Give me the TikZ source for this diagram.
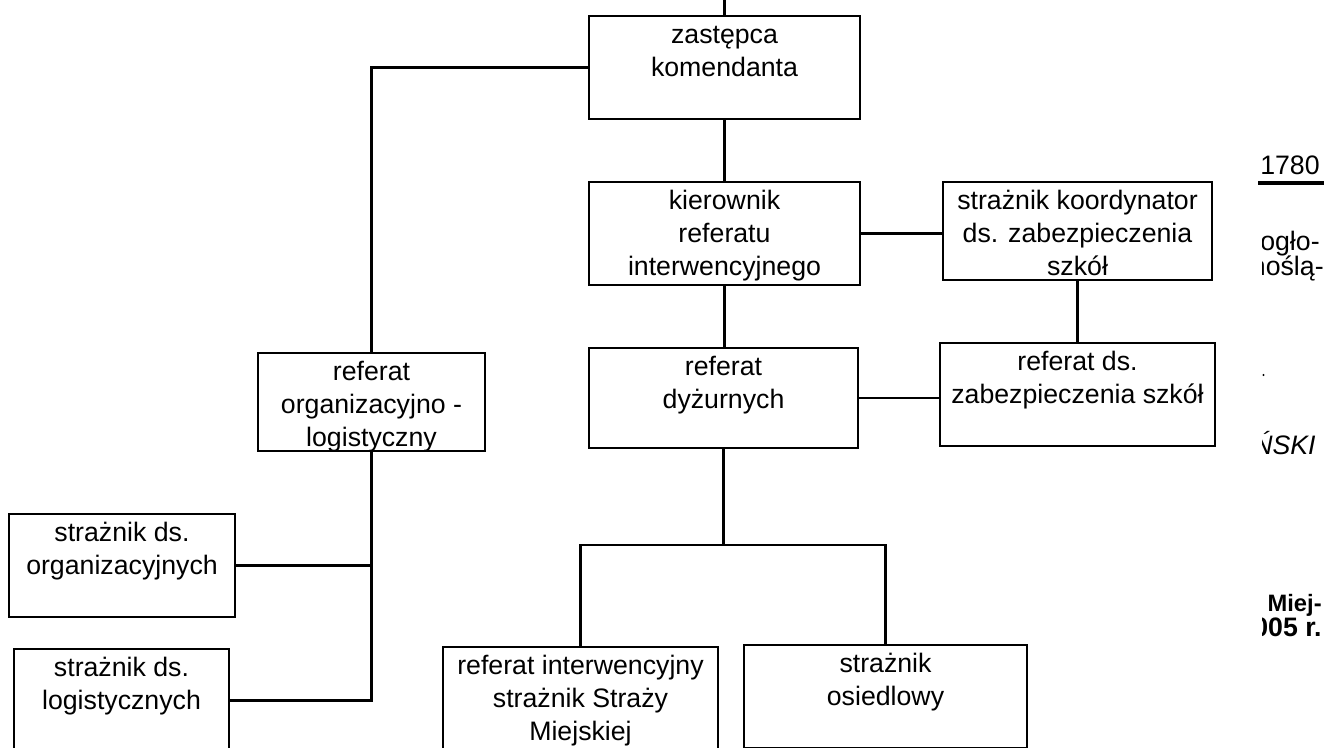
\documentclass[tikz,border=0pt]{standalone}
\usepackage{fontspec}
\setmainfont{Liberation Sans}
\newcommand{\orgfont}{\fontsize{15.2}{19}\selectfont}
\newcommand{\boxtxt}[3]{\parbox[c][#2][t]{#1}{\centering\rule{0pt}{0.54cm}#3}}
\tikzset{
  orgbox/.style={draw, line width=1.4pt, inner sep=0pt},
  conn/.style={line width=1.4pt},
  side/.style={anchor=base east, inner sep=0pt},
}
\begin{document}
\begin{tikzpicture}[x=0.02cm, y=-0.02cm, font=\orgfont]
  \path[use as bounding box] (0,0) rectangle (1324,747);
  \begin{scope}
  \clip (0,0) rectangle (1324,747);
  % 中间一列
  \node[orgbox] (zast) at (724.5,67.5) {\boxtxt{5.42cm}{2.06cm}{zastępca\\komendanta}};
  \node[orgbox] (kier) at (724.5,233.5) {\boxtxt{5.42cm}{2.06cm}{kierownik\\referatu\\interwencyjnego}};
  \node[orgbox] (dyz) at (723.5,398) {\boxtxt{5.38cm}{2cm}{referat\\dyżurnych}};
  % 右边两个
  \node[orgbox] (koord) at (1077.5,231) {\boxtxt{5.38cm}{1.96cm}{strażnik koordynator\\ds. zabezpieczenia\\szkół}};
  \node[orgbox] (refds) at (1077.5,394.5) {\boxtxt{5.5cm}{2.06cm}{referat ds.\\zabezpieczenia szkół}};
  % 左边
  \node[orgbox] (orglog) at (371.5,402) {\boxtxt{4.54cm}{1.96cm}{referat\\organizacyjno -\\logistyczny}};
  \node[orgbox] (sorg) at (122,565.5) {\boxtxt{4.52cm}{2.06cm}{strażnik ds.\\organizacyjnych}};
  \node[orgbox] (slog) at (121.5,700.5) {\boxtxt{4.3cm}{2.06cm}{strażnik ds.\\logistycznych}};
  % 下面两个
  \node[orgbox] (interw) at (580.5,698.5) {\boxtxt{5.5cm}{2.06cm}{referat interwencyjny\\strażnik Straży\\Miejskiej}};
  \node[orgbox] (osied) at (885.5,696.5) {\boxtxt{5.66cm}{2.06cm}{strażnik\\osiedlowy}};
  % 连线
  \coordinate (topend) at (724.5,0);
  \draw[conn] (zast.north) -- (topend);
  \draw[conn] (zast.west) -| (orglog.north);
  \draw[conn] (zast.south) -- (kier.north);
  \draw[conn] (kier.east) -- (kier.east -| koord.west);
  \draw[conn] (koord.south) -- (refds.north);
  \draw[conn] (kier.south) -- (kier.south |- dyz.north);
  \draw[conn] (dyz.east) -- (dyz.east -| refds.west);
  \coordinate (split) at (723.5,545);
  \draw[conn] (dyz.south) -- (split);
  \draw[conn] (interw.north) |- (split) -| (osied.north);
  \coordinate (orgsplit) at (orglog.south |- slog.east);
  \draw[conn] (orglog.south) -- (orgsplit) -- (slog.east);
  \draw[conn] (sorg.east) -- (sorg.east -| orglog.south);
  \end{scope}
  % 右边页边的文字
  \draw[line width=2pt] (1258,183) -- (1324,183);
  \begin{scope}
  \clip (1262,0) rectangle (1324,747);
  \node[side] (nr) at (1320,174) {1780};
  \node[side] (oglo) at (1320,250) {ogło-};
  \node[side] (nosla) at (1324,275) {noślą-};
  \fill (1263.5,375) circle (0.6pt);
  \node[side, font=\orgfont\itshape] (podpis) at (1316,454) {ŃSKI};
  \node[side, font=\fontsize{13.5}{16}\selectfont\bfseries] (miej) at (1322,611) {Miej-};
  \node[side, font=\orgfont\bfseries] (rok) at (1322,636) {2005 r.};
  \end{scope}
\end{tikzpicture}
\end{document}
